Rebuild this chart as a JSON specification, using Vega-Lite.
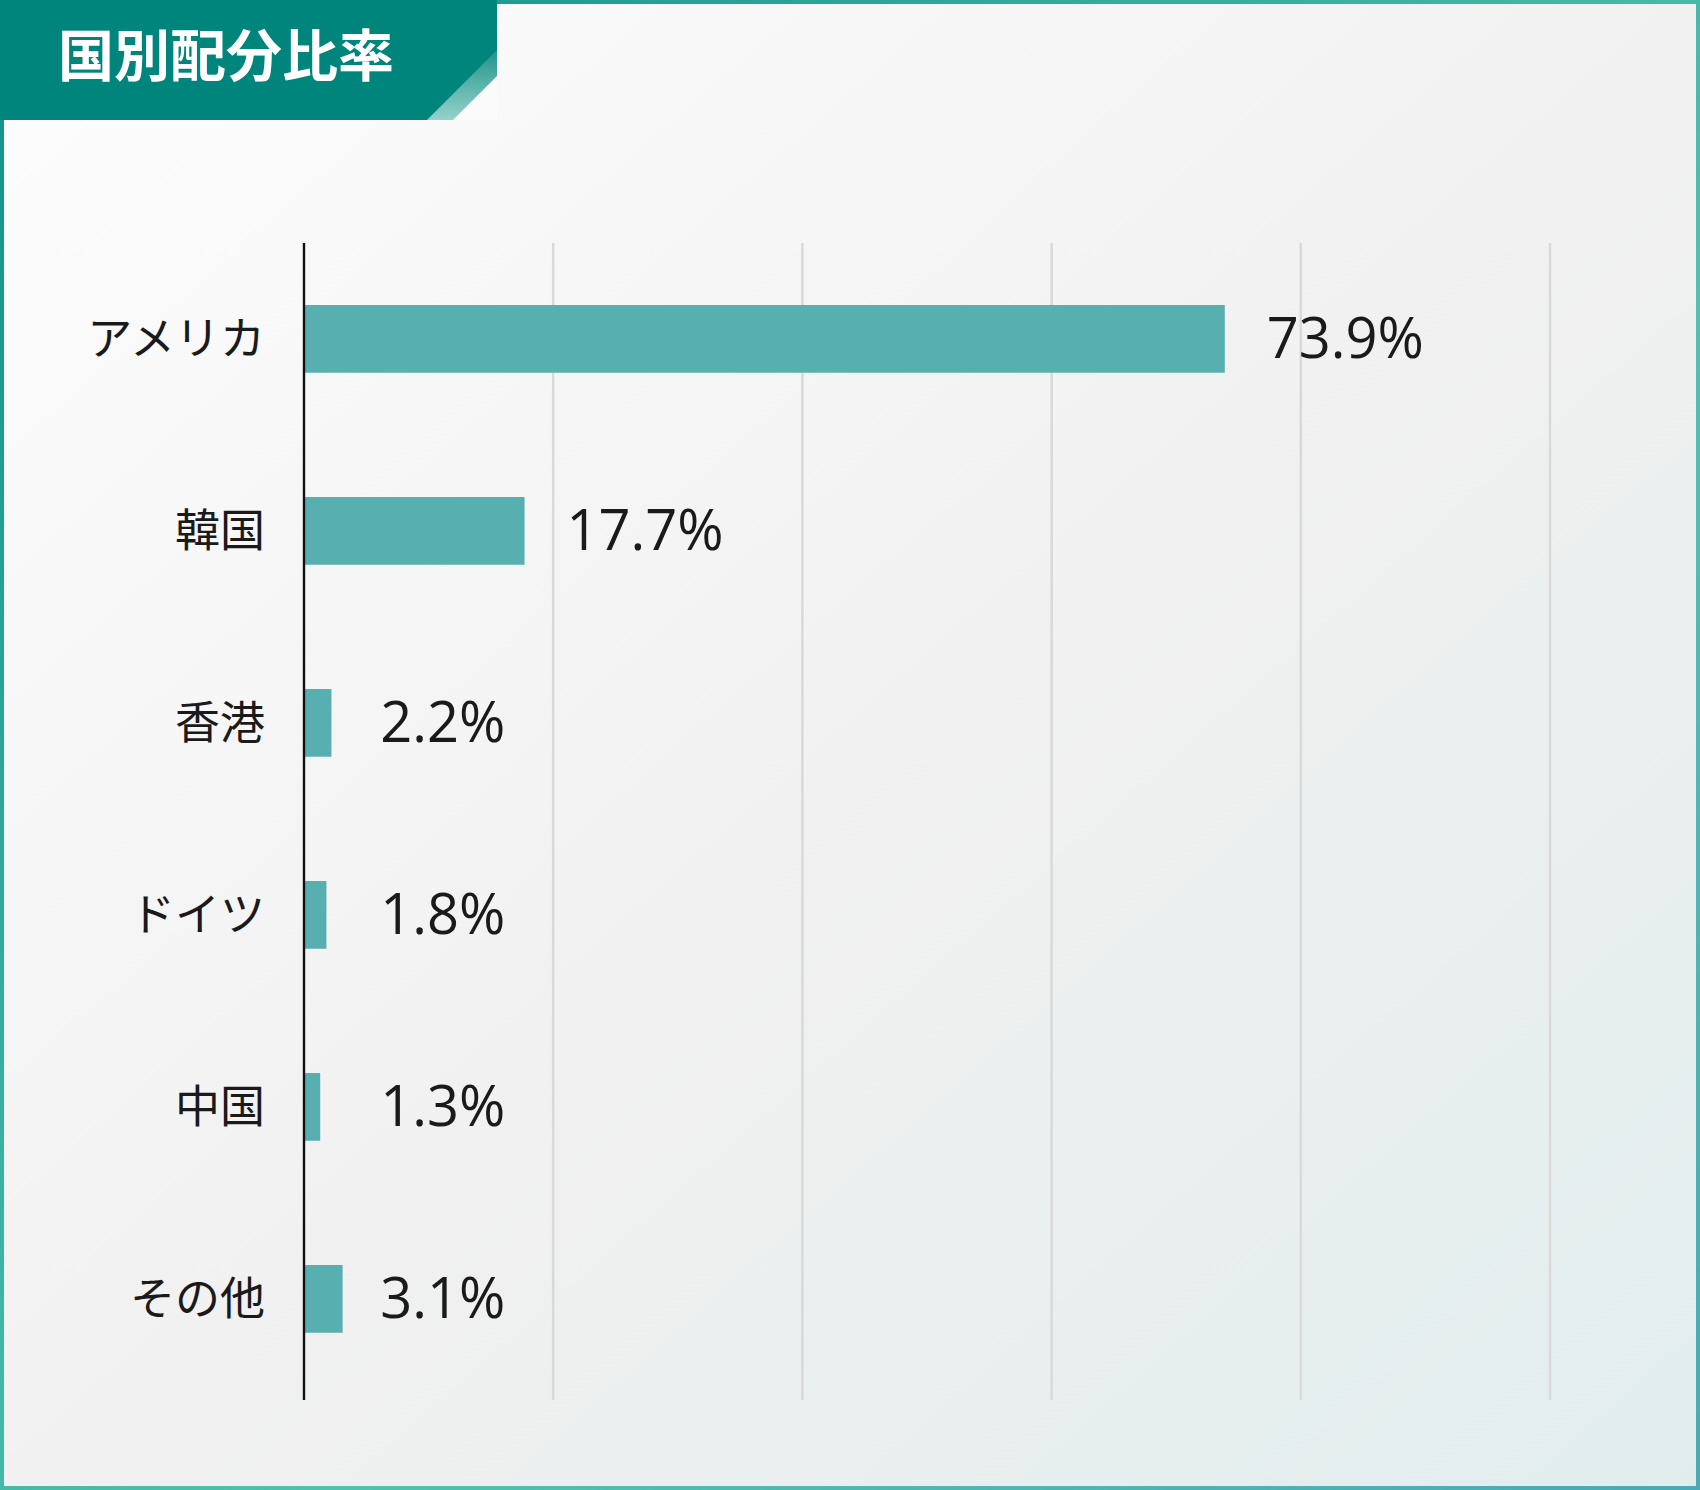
{
  "$schema": "https://vega.github.io/schema/vega-lite/v6.json",
  "width": 1246,
  "height": 1157,
  "autosize": {"type": "none"},
  "padding": {"left": 304, "top": 243, "right": 150, "bottom": 90},
  "background": "#f3f3f3",
  "config": {"view": {"stroke": null}},
  "data": {
    "values": [
      {"country": "アメリカ", "share": 73.9, "label": "73.9%"},
      {"country": "韓国", "share": 17.7, "label": "17.7%"},
      {"country": "香港", "share": 2.2, "label": "2.2%"},
      {"country": "ドイツ", "share": 1.8, "label": "1.8%"},
      {"country": "中国", "share": 1.3, "label": "1.3%"},
      {"country": "その他", "share": 3.1, "label": "3.1%"}
    ]
  },
  "layer": [
    {
      "data": {"values": [{}]},
      "mark": {
        "type": "rect",
        "fill": {
          "gradient": "linear", "x1": 0, "y1": 0, "x2": 1, "y2": 1,
          "stops": [
            {"offset": 0, "color": "#fdfdfd"},
            {"offset": 0.55, "color": "#f0f0f0"},
            {"offset": 1, "color": "#e1eded"}
          ]
        }
      },
      "encoding": {
        "x": {"value": -304}, "x2": {"value": 1396},
        "y": {"value": -243}, "y2": {"value": 1247}
      }
    },
    {"data": {"values": [{}]}, "mark": {"type": "rule", "color": "#d9d9d9", "strokeWidth": 2.5}, "encoding": {"x": {"datum": 20, "type": "quantitative", "axis": null}}},
    {"data": {"values": [{}]}, "mark": {"type": "rule", "color": "#d9d9d9", "strokeWidth": 2.5}, "encoding": {"x": {"datum": 40, "type": "quantitative", "axis": null}}},
    {"data": {"values": [{}]}, "mark": {"type": "rule", "color": "#d9d9d9", "strokeWidth": 2.5}, "encoding": {"x": {"datum": 60, "type": "quantitative", "axis": null}}},
    {"data": {"values": [{}]}, "mark": {"type": "rule", "color": "#d9d9d9", "strokeWidth": 2.5}, "encoding": {"x": {"datum": 80, "type": "quantitative", "axis": null}}},
    {"data": {"values": [{}]}, "mark": {"type": "rule", "color": "#d9d9d9", "strokeWidth": 2.5}, "encoding": {"x": {"datum": 100, "type": "quantitative", "axis": null}}},
    {
      "mark": {"type": "bar", "color": "#58afb0"},
      "encoding": {
        "y": {
          "field": "country", "type": "nominal", "sort": null, "axis": null,
          "scale": {
            "domain": ["アメリカ", "韓国", "香港", "ドイツ", "中国", "その他"],
            "paddingInner": 0.6474, "paddingOuter": 0.3367, "align": 0.48
          }
        },
        "x": {
          "field": "share", "type": "quantitative",
          "scale": {"domain": [0, 100], "nice": false, "zero": true},
          "axis": null
        }
      }
    },
    {"data": {"values": [{}]}, "mark": {"type": "rule", "color": "#111111", "strokeWidth": 2.4}, "encoding": {"x": {"datum": 0, "type": "quantitative", "axis": null}}},
    {
      "mark": {"type": "text", "align": "right", "baseline": "middle", "dx": -39, "dy": 2, "font": "Noto Sans CJK JP", "fontSize": 45, "color": "#1a1a1a"},
      "encoding": {
        "y": {"field": "country", "type": "nominal", "sort": null, "axis": null},
        "x": {"datum": 0, "type": "quantitative", "axis": null},
        "text": {"field": "country"}
      }
    },
    {
      "transform": [{"filter": "datum.share >= 10"}],
      "mark": {"type": "text", "align": "left", "baseline": "middle", "dx": 42, "dy": 2, "font": "Open Sans", "fontSize": 56, "color": "#1a1a1a"},
      "encoding": {
        "y": {"field": "country", "type": "nominal", "sort": null, "axis": null},
        "x": {"field": "share", "type": "quantitative", "axis": null},
        "text": {"field": "label"}
      }
    },
    {
      "transform": [{"filter": "datum.share < 10"}],
      "mark": {"type": "text", "align": "right", "baseline": "middle", "dy": 2, "font": "Open Sans", "fontSize": 56, "color": "#1a1a1a"},
      "encoding": {
        "y": {"field": "country", "type": "nominal", "sort": null, "axis": null},
        "x": {"datum": 16.15, "type": "quantitative", "axis": null},
        "text": {"field": "label"}
      }
    },
    {
      "data": {"values": [{}]},
      "mark": {
        "type": "rect", "filled": false, "strokeWidth": 4,
        "stroke": {
          "gradient": "linear", "x1": 0, "y1": 0, "x2": 1, "y2": 1,
          "stops": [
            {"offset": 0, "color": "#10918a"},
            {"offset": 0.6, "color": "#50c2ad"},
            {"offset": 1, "color": "#4aaab5"}
          ]
        }
      },
      "encoding": {
        "x": {"value": -302}, "x2": {"value": 1394},
        "y": {"value": -241}, "y2": {"value": 1245}
      }
    },
    {
      "data": {"values": [{}]},
      "mark": {"type": "rect", "color": "#00857d"},
      "encoding": {
        "x": {"value": -304}, "x2": {"value": 193},
        "y": {"value": -243}, "y2": {"value": -123}
      }
    },
    {
      "data": {"values": [{}]},
      "mark": {
        "type": "point", "shape": "M1,-1L1,1L-1,1Z", "filled": true, "size": 4900, "opacity": 1, "strokeWidth": 0,
        "fill": {
          "gradient": "linear", "x1": 0, "y1": 0, "x2": 0, "y2": 1,
          "stops": [
            {"offset": 0, "color": "#1f948b"},
            {"offset": 1, "color": "#95d2cb"}
          ]
        }
      },
      "encoding": {"x": {"value": 158}, "y": {"value": -158}}
    },
    {
      "data": {"values": [{}]},
      "mark": {"type": "point", "shape": "M1,-1L1,1L-1,1Z", "filled": true, "size": 1936, "opacity": 1, "strokeWidth": 0, "fill": "#fbfbfb"},
      "encoding": {"x": {"value": 171}, "y": {"value": -145}}
    },
    {
      "data": {"values": [{}]},
      "mark": {"type": "text", "text": "国別配分比率", "font": "Noto Sans CJK JP", "fontWeight": "bold", "fontSize": 56, "color": "#ffffff", "align": "left", "baseline": "middle"},
      "encoding": {"x": {"value": -246}, "y": {"value": -184}}
    }
  ]
}
